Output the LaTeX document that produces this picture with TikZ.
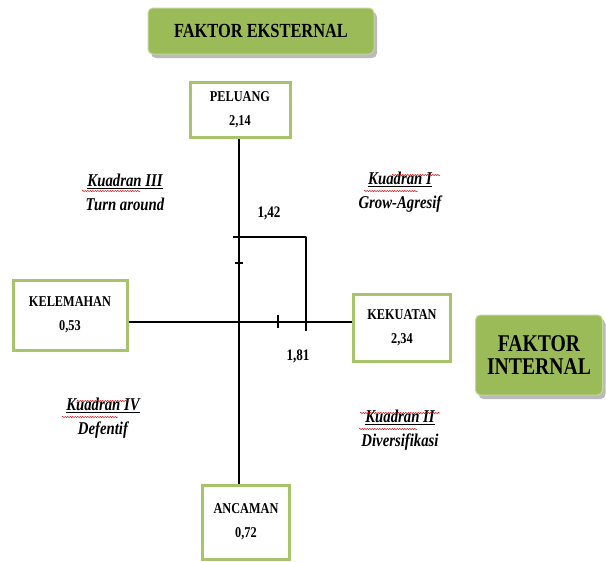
\documentclass[tikz,border=0pt]{standalone}
\usepackage{fontspec}
\setmainfont{Liberation Serif}
\newfontfamily\condf[FakeStretch=0.82]{Liberation Serif}
\usetikzlibrary{shadows,decorations.pathmorphing}
\definecolor{olive}{HTML}{9BBB59}
\definecolor{oliveedge}{HTML}{A8C46A}
\tikzset{
  greenbox/.style={rounded corners=5pt, fill=olive, draw=olive!60!white, line width=1pt,
    drop shadow={shadow xshift=3pt, shadow yshift=-4pt, fill=black!45, opacity=0.6},
    font=\condf\bfseries, align=center, inner sep=0pt},
  valbox/.style={draw=oliveedge, line width=3pt, fill=white, align=center, inner sep=0pt,
    font=\condf\bfseries\fontsize{15}{24}\selectfont},
  axis/.style={line width=2.6pt, black},
  tick/.style={line width=1.2pt, black},
  quad/.style={font=\condf\bfseries\itshape\fontsize{18}{24}\selectfont, align=center},
  num/.style={font=\condf\bfseries\fontsize{16}{18}\selectfont},
  squig/.style={red!80!black, line width=0.5pt, decorate, decoration={snake, amplitude=0.6pt, segment length=2.5pt}}
}
\begin{document}
\begin{tikzpicture}[x=1pt,y=-1pt]
\useasboundingbox[fill=white] (0,0) rectangle (606,562);
% green header boxes
\node[greenbox, minimum width=226pt, minimum height=46pt, font=\condf\bfseries\fontsize{20}{24}\selectfont] (ext) at (261,31) {FAKTOR EKSTERNAL};
\node[greenbox, minimum width=127pt, minimum height=80pt, font=\condf\bfseries\fontsize{24}{23}\selectfont] (int) at (539,355) {FAKTOR\\INTERNAL};
% value boxes
\node[valbox, minimum width=100pt, minimum height=55pt] (pel) at (240,110) {PELUANG\\2,14};
\node[valbox, minimum width=114pt, minimum height=70pt] (kel) at (70,315) {KELEMAHAN\\0,53};
\node[valbox, minimum width=97pt, minimum height=67pt] (kek) at (402,328) {KEKUATAN\\2,34};
\node[valbox, minimum width=87pt, minimum height=74pt] (anc) at (246,522) {ANCAMAN\\0,72};
% axes
\coordinate (o) at (239,322);
\draw[axis] (pel.south -| o) -- (anc.north -| o);
\draw[axis] (kel.east |- o) -- (kek.west |- o);
% position lines
\coordinate (p1) at (233,237);
\coordinate (p2) at (306,237);
\coordinate (p3) at (306,331);
\draw[axis, line join=round] (p1) -- (p2) -- (p3);
% ticks
\coordinate (t1) at (239,263);
\coordinate (t2) at (278,322);
\draw[tick] ([xshift=-4pt]t1) -- ([xshift=4pt]t1);
\draw[tick] ([yshift=-6pt]t2) -- ([yshift=7pt]t2);
% numeric labels
\node[num] (n142) at (269,213) {1,42};
\node[num] (n181) at (298,356) {1,81};
% quadrant labels
\node[quad] (q3) at (125,192) {\underline{Kuadran III}\\Turn around};
\node[quad] (q1) at (400,192) {\underline{Kuadran I}\\Grow-Agresif};
\node[quad] (q4) at (103,418) {\underline{Kuadran IV}\\Defentif};
\node[quad] (q2) at (400,430) {\underline{Kuadran II}\\Diversifikasi};
% spell-check squiggles
\draw[squig] ([xshift=-43pt,yshift=1pt]q3.center) -- ([xshift=15pt,yshift=1pt]q3.center);
\draw[squig] ([xshift=-36pt,yshift=1pt]q1.center) -- ([xshift=18pt,yshift=1pt]q1.center);
\draw[squig] ([xshift=-8pt,yshift=17pt]q1.center) -- ([xshift=40pt,yshift=17pt]q1.center);
\draw[squig] ([xshift=-41pt,yshift=1pt]q4.center) -- ([xshift=15pt,yshift=1pt]q4.center);
\draw[squig] ([xshift=-26pt,yshift=17pt]q4.center) -- ([xshift=26pt,yshift=17pt]q4.center);
\draw[squig] ([xshift=-41pt,yshift=1pt]q2.center) -- ([xshift=17pt,yshift=1pt]q2.center);
\draw[squig] ([xshift=-40pt,yshift=17pt]q2.center) -- ([xshift=40pt,yshift=17pt]q2.center);
\end{tikzpicture}
\end{document}
